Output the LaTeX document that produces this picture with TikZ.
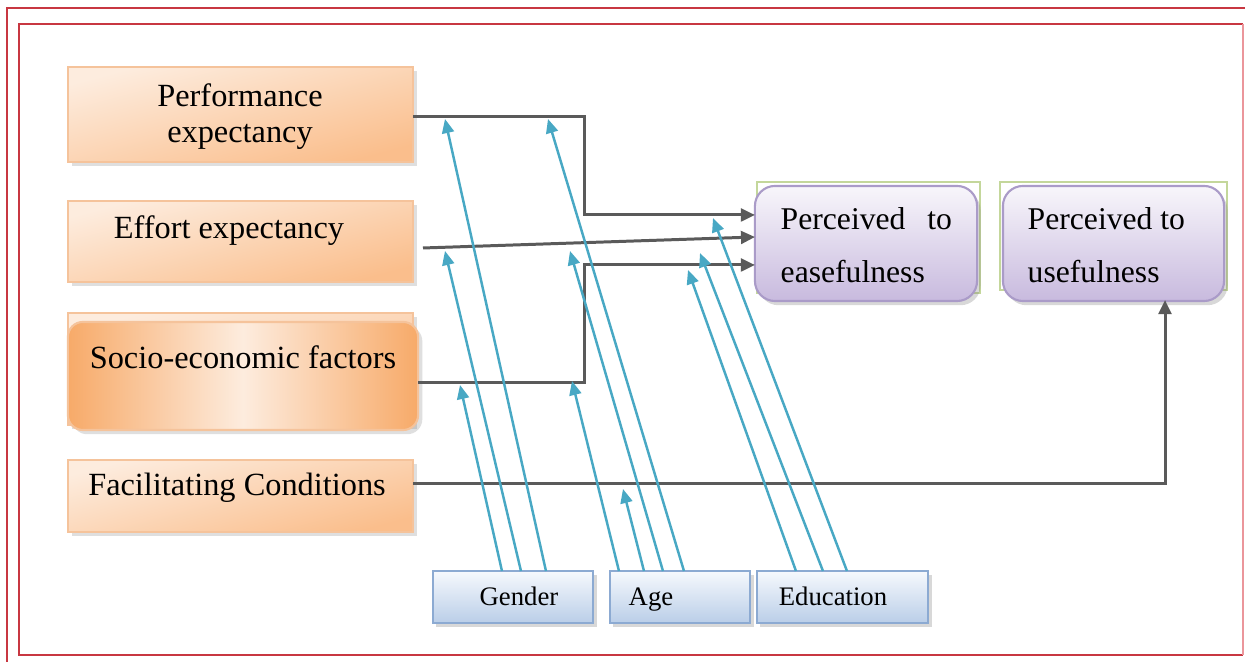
\documentclass[tikz,border=0pt]{standalone}
\usepackage{fontspec}
\setmainfont{Liberation Serif}
\usetikzlibrary{arrows.meta,shadows,calc}

\definecolor{frameRed}{RGB}{200,55,65}
\definecolor{frameRedL}{RGB}{235,150,155}
\definecolor{peachL}{RGB}{253,236,222}
\definecolor{orangeD}{RGB}{250,190,140}
\definecolor{orangeS}{RGB}{247,170,105}
\definecolor{orangeEdge}{RGB}{245,195,155}
\definecolor{lilacL}{RGB}{248,246,251}
\definecolor{lilacD}{RGB}{200,186,222}
\definecolor{lilacEdge}{RGB}{170,155,200}
\definecolor{greenEdge}{RGB}{196,215,155}
\definecolor{blueL}{RGB}{246,249,253}
\definecolor{blueD}{RGB}{186,206,232}
\definecolor{blueEdge}{RGB}{140,170,210}
\definecolor{link}{RGB}{90,90,90}
\definecolor{modline}{RGB}{72,168,196}

\tikzset{
  factorbox/.style={draw=orangeEdge, line width=0.6pt, inner sep=0pt, outer sep=0pt,
    top color=peachL, bottom color=orangeD, shading angle=15,
    minimum width=3.45cm,
    drop shadow={shadow xshift=1.2pt, shadow yshift=-1.2pt, opacity=0.25}},
  factortext/.style={font=\fontsize{9.2}{10.2}\selectfont, align=center, inner sep=0pt},
  outcomebox/.style={draw=lilacEdge, line width=0.6pt, inner sep=0pt, outer sep=0pt,
    rounded corners=0.2cm, top color=lilacL, bottom color=lilacD,
    minimum width=2.22cm, minimum height=1.15cm,
    drop shadow={shadow xshift=1pt, shadow yshift=-1.2pt, opacity=0.3}},
  backframe/.style={draw=greenEdge, line width=0.7pt, inner sep=0pt},
  outcometext/.style={font=\fontsize{9}{15}\selectfont, align=left, inner sep=0pt, anchor=west},
  modbox/.style={draw=blueEdge, line width=0.6pt, inner sep=0pt, outer sep=0pt,
    top color=blueL, bottom color=blueD, minimum height=0.52cm,
    drop shadow={shadow xshift=1pt, shadow yshift=-1.2pt, opacity=0.3}},
  modtext/.style={font=\fontsize{7.6}{9}\selectfont, inner sep=0pt, anchor=base},
  mainlink/.style={draw=link, line width=0.85pt, -{Triangle[length=4pt,width=3.6pt]}},
  modlink/.style={draw=modline, line width=0.7pt, -{Triangle[length=4pt,width=3.4pt]}},
}

\begin{document}
\begin{tikzpicture}[x=0.01cm, y=-0.01cm]
\useasboundingbox (0,0) rectangle (1245,662);
\fill[white] (0,0) rectangle (1245,662);

% double red page frame
\draw[frameRed, line width=0.45pt] (7,670) -- (7,8) -- (1250,8);
\draw[frameRed, line width=0.45pt] (1243,24) -- (19,24) -- (19,655) -- (1243,655);
\draw[frameRedL, line width=0.3pt] (1243,24) -- (1243,655);

% factor boxes
\node[factorbox, minimum height=0.95cm] (pe) at (240.5,114.5) {};
\node[factortext] (pe-t) at (240,117) {Performance\\expectancy};

\node[factorbox, minimum height=0.81cm] (ee) at (240.5,241.5) {};
\node[factortext] (ee-t) at (229,231) {Effort expectancy};

\node[factorbox, minimum height=1.12cm] (sef-back) at (240.5,369) {};
\node[factorbox, minimum width=3.5cm, minimum height=1.08cm, rounded corners=0.15cm,
      left color=orangeS, right color=orangeS, middle color=peachL] (sef) at (243,376) {};
\node[factortext] (sef-t) at (243,357) {Socio-economic factors};

\node[factorbox, minimum height=0.72cm] (fc) at (240.5,496) {};
\node[factortext] (fc-t) at (237,488) {Facilitating Conditions};

% outcome boxes
\node[backframe, minimum width=2.23cm, minimum height=1.11cm] (pte-frame) at (868.5,237.5) {};
\node[outcomebox] (pte) at (866,243.5) {};
\node[outcometext] (pte-t) at (780,245) {Perceived\hspace{6.2pt}to\\easefulness};

\node[backframe, minimum width=2.27cm, minimum height=1.08cm] (ptu-frame) at (1113.5,236) {};
\node[outcomebox, minimum width=2.21cm] (ptu) at (1113.5,243.5) {};
\node[outcometext] (ptu-t) at (1027,245) {Perceived to\\usefulness};

% moderator boxes
\node[modbox, minimum width=1.60cm] (gen) at (513,597) {};
\node[modtext] (gen-t) at (519,606) {Gender};
\node[modbox, minimum width=1.40cm] (age) at (680,597) {};
\node[modtext] (age-t) at (651,606) {Age};
\node[modbox, minimum width=1.71cm] (edu) at (842.5,597) {};
\node[modtext] (edu-t) at (833,606) {Education};

% entry points on the easefulness box
\coordinate (in1) at (755,215);
\coordinate (in2) at (755,237);
\coordinate (in3) at (755,265);
\coordinate (ee-out) at (423,248);
\coordinate (ptu-in) at (1165,300);

% main paths
\draw[mainlink] (pe.east |- 0,117) -| (584,215) -- (in1);
\draw[mainlink] (ee-out) -- (in2);
\draw[mainlink] (sef.east |- 0,383) -| (584,265) -- (in3);
\draw[mainlink] (fc.east |- 0,484) -| (ptu-in);

% moderator tips
\coordinate (g1) at (460,385);
\coordinate (g2) at (445,251);
\coordinate (g3) at (445,119);
\coordinate (a1) at (572,381);
\coordinate (a2) at (623,489);
\coordinate (a3) at (570,251);
\coordinate (a4) at (548,119);
\coordinate (e1) at (688,270);
\coordinate (e2) at (700,253);
\coordinate (e3) at (713,218);

% moderator links from the top of each moderator box
\draw[modlink] (gen.north west) ++(69,0) -- (g1);
\draw[modlink] (gen.north west) ++(88,0) -- (g2);
\draw[modlink] (gen.north west) ++(113,0) -- (g3);
\draw[modlink] (age.north west) ++(9,0) -- (a1);
\draw[modlink] (age.north west) ++(34,0) -- (a2);
\draw[modlink] (age.north west) ++(53,0) -- (a3);
\draw[modlink] (age.north west) ++(74,0) -- (a4);
\draw[modlink] (edu.north west) ++(39,0) -- (e1);
\draw[modlink] (edu.north west) ++(66,0) -- (e2);
\draw[modlink] (edu.north west) ++(90,0) -- (e3);
\end{tikzpicture}
\end{document}
